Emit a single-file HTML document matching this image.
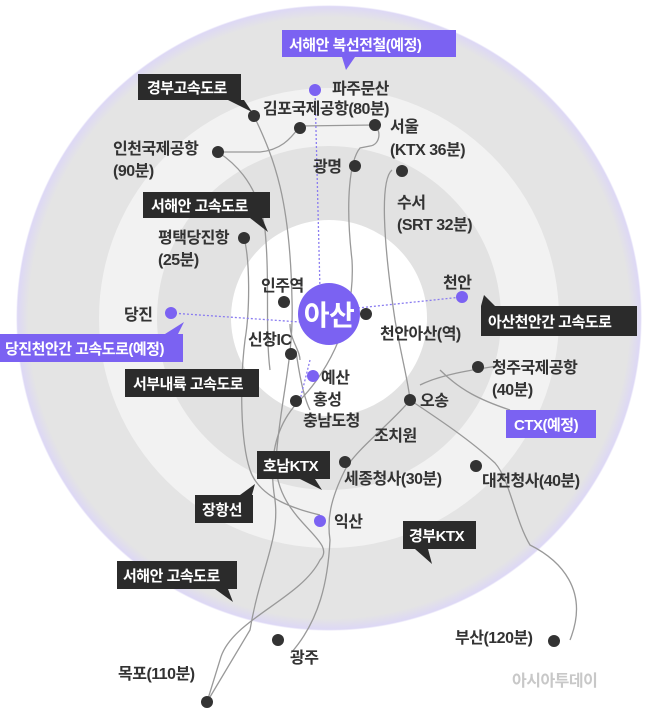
<!DOCTYPE html>
<html><head><meta charset="utf-8"><style>
body{margin:0;background:#fff;}
svg text{font-family:"Liberation Sans","Noto Sans CJK KR",sans-serif;font-weight:bold;fill:#333;font-size:16px;letter-spacing:-0.5px;}
svg text.w{fill:#fff;}
svg text.wm{fill:#c8c8c8;}
</style></head><body>
<svg width="658" height="710" viewBox="0 0 658 710" xmlns="http://www.w3.org/2000/svg">
<defs><radialGradient id="g" cx="0.5" cy="0.5" r="0.5"><stop offset="0.96" stop-color="#e4e4e4"/><stop offset="0.995" stop-color="#ddd8f5"/><stop offset="1" stop-color="#fff"/></radialGradient></defs>
<circle cx="329" cy="318" r="313" fill="url(#g)"/>
<circle cx="329" cy="318" r="230" fill="#f2f2f2"/>
<circle cx="329" cy="318" r="172" fill="#e2e2e2"/>
<circle cx="329" cy="318" r="98" fill="#fff"/>
<g fill="none" stroke="#999" stroke-width="1.3">
<path d="M254 116 C275 160,290 200,292 300 C294 360,280 400,276 460 C274 520,340 540,320 560 C300 600,230 620,220 660 L207 702"/>
<path d="M300 126 C290 140,280 150,260 152 L218 152 C230 160,258 180,265 230 C270 280,265 330,270 370"/>
<path d="M300 126 L374 125 C382 130,380 145,370 146 L360 148 C350 160,345 200,352 260 C356 330,320 380,300 400 C270 430,270 470,275 500 C280 540,260 570,250 630 L207 702"/>
<path d="M392 170 C380 180,383 240,395 320 C402 360,408 380,410 400 C395 420,355 450,345 470 C330 500,327 520,330 540 C328 580,320 620,291 653"/>
<path d="M410 400 C440 420,470 440,495 463 C510 480,515 520,530 545 C560 560,590 590,570 640"/>
<path d="M498 366 C470 370,440 375,420 385 M440 370 C460 390,480 400,510 410"/>
<path d="M244 238 C250 260,250 310,245 340 C240 380,240 440,250 470 C260 500,300 510,320 515"/>
<path d="M296 351 C300 380,305 400,310 410 M290 324 C290 340,300 350,300 360"/>
</g>
<g stroke="#8a7cf0" stroke-width="1.3" stroke-dasharray="2,2" fill="none">
<path d="M315 90 L320 290"/><path d="M171 313 L300 322"/><path d="M358 308 L462 297"/><path d="M310 360 L300 400"/>
</g>
<g fill="#333">
<circle cx="254" cy="116" r="6"/><circle cx="300" cy="128" r="6"/><circle cx="375" cy="125" r="6"/><circle cx="218" cy="152" r="6"/><circle cx="355" cy="166" r="6"/><circle cx="402" cy="171" r="6"/><circle cx="244" cy="238" r="6"/><circle cx="284" cy="302" r="6"/><circle cx="366" cy="314" r="6"/><circle cx="291" cy="354" r="6"/><circle cx="296" cy="401" r="6"/><circle cx="410" cy="400" r="6"/><circle cx="478" cy="367" r="6"/><circle cx="345" cy="462" r="6"/><circle cx="476" cy="466" r="6"/><circle cx="278" cy="640" r="6"/><circle cx="554" cy="641" r="6"/><circle cx="207" cy="702" r="6"/>
</g>
<g fill="#7b62f2">
<circle cx="315" cy="90" r="6"/><circle cx="462" cy="297" r="6"/><circle cx="171" cy="313" r="6"/><circle cx="313" cy="376" r="6"/><circle cx="320" cy="521" r="6"/>
<circle cx="329" cy="314" r="31"/>
</g>
<text x="329" y="325" class="w" style="font-size:28px" text-anchor="middle">아산</text>
<text x="332" y="94">파주문산</text>
<text x="263" y="114">김포국제공항(80분)</text>
<text x="390" y="132">서울</text><text x="390" y="155">(KTX 36분)</text>
<text x="113" y="154">인천국제공항</text><text x="113" y="176">(90분)</text>
<text x="313" y="172">광명</text>
<text x="397" y="208">수서</text><text x="397" y="230">(SRT 32분)</text>
<text x="158" y="243">평택당진항</text><text x="158" y="265">(25분)</text>
<text x="261" y="291">인주역</text>
<text x="443" y="288">천안</text>
<text x="124" y="320">당진</text>
<text x="248" y="345">신창IC</text>
<text x="380" y="339">천안아산(역)</text>
<text x="492" y="373">청주국제공항</text><text x="492" y="395">(40분)</text>
<text x="321" y="383">예산</text>
<text x="313" y="405">홍성</text><text x="303" y="426">충남도청</text>
<text x="420" y="406">오송</text>
<text x="374" y="441">조치원</text>
<text x="344" y="484">세종청사(30분)</text>
<text x="482" y="486">대전청사(40분)</text>
<text x="334" y="527">익산</text>
<text x="455" y="643">부산(120분)</text>
<text x="290" y="663">광주</text>
<text x="118" y="679">목포(110분)</text>
<text x="512" y="686" class="wm">아시아투데이</text>
<g fill="#2b2b2b">
<rect x="138" y="74" width="103" height="26"/><polygon points="228,100 244,100 252,112"/>
<rect x="143" y="192" width="127" height="26"/><polygon points="250,218 262,218 268,232"/>
<rect x="481" y="306" width="156" height="30"/><polygon points="481,306 495,306 484,295"/>
<rect x="125" y="369" width="134" height="28"/>
<rect x="257" y="451" width="73" height="28"/><polygon points="300,479 315,479 322,490"/>
<rect x="195" y="495" width="58" height="28"/><polygon points="240,495 252,495 255,484"/>
<rect x="403" y="521" width="73" height="28"/><polygon points="415,549 428,549 432,564"/>
<rect x="117" y="561" width="120" height="28"/><polygon points="215,589 228,589 233,602"/>
</g>
<text class="w" x="147" y="93" style="font-size:15px">경부고속도로</text>
<text class="w" x="151" y="211" style="font-size:15px">서해안 고속도로</text>
<text class="w" x="488" y="327" style="font-size:15px">아산천안간 고속도로</text>
<text class="w" x="133" y="389" style="font-size:15px">서부내륙 고속도로</text>
<text class="w" x="263" y="471" style="font-size:15px">호남KTX</text>
<text class="w" x="202" y="515" style="font-size:15px">장항선</text>
<text class="w" x="409" y="541" style="font-size:15px">경부KTX</text>
<text class="w" x="123" y="581" style="font-size:15px">서해안 고속도로</text>
<g fill="#7b62f2">
<rect x="282" y="30" width="174" height="27"/><polygon points="342,57 355,57 346,70"/>
<rect x="0" y="334" width="183" height="28"/><polygon points="165,334 178,334 184,322"/>
<rect x="506" y="410" width="90" height="28"/>
</g>
<text class="w" x="289" y="50" style="font-size:15px">서해안 복선전철(예정)</text>
<text class="w" x="5" y="354" style="font-size:15px">당진천안간 고속도로(예정)</text>
<text class="w" x="514" y="430" style="font-size:15px">CTX(예정)</text>
</svg>
</body></html>
